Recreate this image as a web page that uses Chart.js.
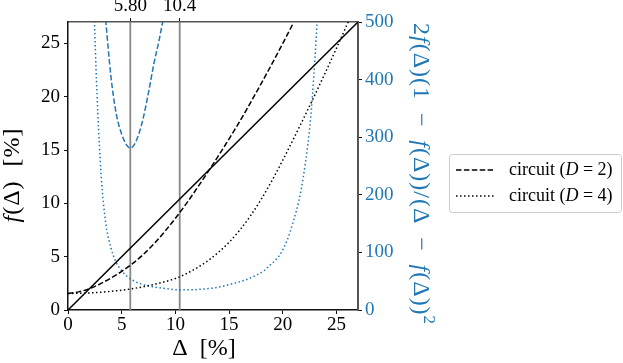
<!DOCTYPE html>
<html>
<head>
<meta charset="utf-8">
<script src="https://cdn.jsdelivr.net/npm/chart.js@4.4.0/dist/chart.umd.min.js"></script>
<style>
    body { margin: 0; background: #fff; }
    #wrap { width: 623px; height: 363px; }
</style>
</head>
<body>
<div id="wrap"><canvas id="chart" width="623" height="363"></canvas></div>
<script>
// Values
const deltaD2 = [0, 1, 2, 3, 4, 5, 6, 7, 8, 9, 10, 11, 12, 13, 14, 15, 16, 17, 18, 19, 20, 21];
const fD2 = [1.55, 1.7, 2.0, 2.45, 3.0, 3.62, 4.34, 5.2, 6.2, 7.35, 8.6, 9.95, 11.4, 12.9, 14.45, 16.05, 17.7, 19.45, 21.25, 23.1, 25.0, 26.95];

const deltaD4 = [0, 2, 4, 6, 8, 10, 11, 12, 13, 14, 15, 16, 17, 18, 19, 20, 21, 22, 23, 24, 25, 26, 27];
const fD4 = [1.55, 1.6, 1.75, 2.0, 2.4, 2.95, 3.4, 3.95, 4.6, 5.4, 6.35, 7.5, 8.85, 10.4, 12.15, 14.05, 16.05, 18.1, 20.2, 22.35, 24.55, 26.8, 29.1];

// right axis: 2f(1-f)/(Δ-f)^2
const deltaRatioD2 = [3.3, 3.5, 4, 4.5, 5, 5.4, 5.8, 6.2, 6.6, 7, 7.5, 8, 8.5, 9, 9.3];
const ratioD2 = [545, 505, 405, 340, 305, 288, 281, 288, 306, 333, 378, 428, 470, 520, 555];

const deltaRatioD4 = [2.3, 2.4, 2.5, 2.7, 3.0, 3.2, 3.4, 3.6, 4.0, 4.4, 5.0, 5.6, 6.4, 7.2, 8, 9, 10.4, 11.5, 12.3, 13.7, 15.4, 16.5, 17.6, 18.3, 18.8, 19.4, 19.8, 20.4, 21, 21.5, 21.9, 22.3, 22.6, 22.9, 23.1, 23.25, 23.4];
const ratioD4 = [620, 545, 480, 375, 260, 205, 168, 140, 108, 86, 68, 57, 48, 43, 40, 37.5, 35, 35, 36, 38.5, 46, 52, 61, 69, 78, 88, 98, 121, 155, 190, 230, 283, 335, 410, 470, 520, 580];

// identity line and the two marked Δ values on the top axis
const diagonal = [0, 27];
const markers = [5.8, 10.4];
const markerLabels = ['5.80', '10.4'];

const xTicks = [0, 5, 10, 15, 20, 25];
const yTicks = [0, 5, 10, 15, 20, 25];
const y2Ticks = [0, 100, 200, 300, 400, 500];

const BLUE = '#1f77b4';
const SERIF = '"Liberation Serif", "DejaVu Serif", serif';

function toPoints(xs, ys) {
    return xs.map((x, i) => ({ x: x, y: ys[i] }));
}

function fontFor(p, size) {
    const s = p.sup ? size * 0.7 : size;
    return (p.it ? 'italic ' : '') + s + 'px ' + SERIF;
}

// draw a string made of roman / italic pieces, centred on (cx, cy)
function drawRich(ctx, parts, cx, cy, size, color, angle, spacing) {
    ctx.save();
    ctx.translate(cx, cy);
    ctx.rotate(angle);
    ctx.fillStyle = color;
    ctx.textBaseline = 'middle';
    ctx.textAlign = 'left';
    ctx.letterSpacing = (spacing || 0) + 'px';
    let total = 0;
    parts.forEach(p => {
        ctx.font = fontFor(p, size);
        p.w = ctx.measureText(p.t).width;
        total += p.w;
    });
    let x = -total / 2;
    parts.forEach(p => {
        ctx.font = fontFor(p, size);
        ctx.fillText(p.t, x, p.sup ? -size * 0.35 : 0);
        x += p.w;
    });
    ctx.restore();
    return total;
}

// axis titles and legend
const extras = {
    id: 'extras',
    afterDraw(chart) {
        const ctx = chart.ctx;

        drawRich(ctx, [{ t: 'f', it: true }, { t: '(Δ)  [%]' }], 13, 175, 24, '#000', -Math.PI / 2, 1);
        drawRich(ctx, [{ t: 'Δ  [%]' }], 204, 349, 24, '#000', 0);
        drawRich(ctx, [
            { t: '2' }, { t: 'f', it: true }, { t: '(Δ)(1 \u2009−\u2009 ' }, { t: 'f', it: true },
            { t: '(Δ))/(Δ \u2009−\u2009 ' }, { t: 'f', it: true }, { t: '(Δ))' }, { t: '2', sup: true }
        ], 420, 174, 24, BLUE, Math.PI / 2, 1);

        // legend box
        ctx.save();
        ctx.fillStyle = 'rgba(255,255,255,0.8)';
        ctx.strokeStyle = '#cccccc';
        ctx.lineWidth = 1;
        ctx.beginPath();
        ctx.roundRect(449.5, 154.5, 172, 58, 3);
        ctx.fill();
        ctx.stroke();

        const rows = [
            { dash: [5.5, 2.4], y: 170, d: '2' },
            { dash: [1.5, 2.5], y: 196, d: '4' }
        ];
        rows.forEach(r => {
            ctx.strokeStyle = '#000';
            ctx.lineWidth = 1.5;
            ctx.setLineDash(r.dash);
            ctx.beginPath();
            ctx.moveTo(456, r.y);
            ctx.lineTo(494, r.y);
            ctx.stroke();
            ctx.setLineDash([]);
            const parts = [{ t: 'circuit (' }, { t: 'D', it: true }, { t: ' = ' + r.d + ')' }];
            let w = 0;
            parts.forEach(p => {
                ctx.font = fontFor(p, 18);
                w += ctx.measureText(p.t).width;
            });
            drawRich(ctx, parts, 509 + w / 2, r.y, 18, '#000', 0);
        });
        ctx.restore();
    }
};

function lineSet(data, color, dash, axis) {
    return {
        data: data,
        borderColor: color,
        borderWidth: 1.5,
        borderDash: dash,
        pointRadius: 0,
        cubicInterpolationMode: 'monotone',
        yAxisID: axis,
        fill: false
    };
}

function fixSize(prop, value) {
    return scale => { scale[prop] = value; };
}

const datasets = [
    lineSet(toPoints(diagonal, diagonal), '#000', [], 'y'),
    lineSet(toPoints(deltaD2, fD2), '#000', [5.5, 2.4], 'y'),
    lineSet(toPoints(deltaD4, fD4), '#000', [1.5, 2.5], 'y'),
    lineSet(toPoints(deltaRatioD2, ratioD2), BLUE, [5.5, 2.4], 'y2'),
    lineSet(toPoints(deltaRatioD4, ratioD4), BLUE, [1.5, 2.5], 'y2')
];
markers.forEach(m => {
    const ds = lineSet([{ x: m, y: 0 }, { x: m, y: 27 }], '#888888', [], 'y');
    ds.borderWidth = 1.8;
    datasets.push(ds);
});

const tickFont = { family: SERIF, size: 19 };

new Chart(document.getElementById('chart'), {
    type: 'line',
    data: { datasets: datasets },
    options: {
        responsive: false,
        animation: false,
        layout: { padding: 0 },
        plugins: { legend: { display: false }, tooltip: { enabled: false } },
        scales: {
            x: {
                type: 'linear', position: 'bottom', min: 0, max: 27,
                afterFit: fixSize('height', 53),
                afterBuildTicks: s => { s.ticks = xTicks.map(v => ({ value: v })); },
                border: { color: '#111', width: 1.5 },
                grid: { drawOnChartArea: false, tickLength: 4, tickColor: '#111' },
                ticks: { font: tickFont, color: '#000', padding: 0, maxRotation: 0 }
            },
            xTop: {
                type: 'linear', position: 'top', min: 0, max: 27,
                afterFit: fixSize('height', 22),
                afterBuildTicks: s => { s.ticks = markers.map(v => ({ value: v })); },
                border: { color: '#555', width: 1.5 },
                grid: { drawOnChartArea: false, tickLength: 4, tickColor: '#111' },
                ticks: { font: tickFont, color: '#000', padding: 1, maxRotation: 0,
                    callback: (v, i) => markerLabels[i] }
            },
            y: {
                type: 'linear', position: 'left', min: 0, max: 27,
                afterFit: fixSize('width', 68),
                afterBuildTicks: s => { s.ticks = yTicks.map(v => ({ value: v })); },
                border: { color: '#111', width: 1.5 },
                grid: { drawOnChartArea: false, tickLength: 4, tickColor: '#111' },
                ticks: { font: tickFont, color: '#000', padding: 4 }
            },
            y2: {
                type: 'linear', position: 'right', min: 0, max: 500,
                afterFit: fixSize('width', 265),
                afterBuildTicks: s => { s.ticks = y2Ticks.map(v => ({ value: v })); },
                border: { color: '#555', width: 2 },
                grid: { drawOnChartArea: false, tickLength: 4, tickColor: '#111' },
                ticks: { font: tickFont, color: BLUE, padding: 3 }
            }
        }
    },
    plugins: [extras]
});
</script>
</body>
</html>
